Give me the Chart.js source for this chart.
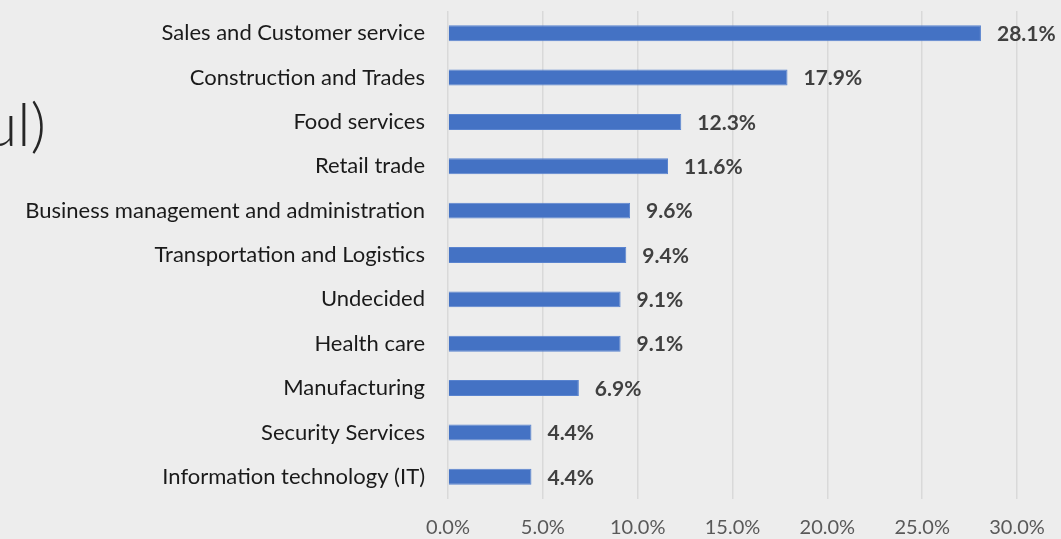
<html>

<head>
    <script src="https://cdn.jsdelivr.net/npm/chart.js@4"></script>
    <style>
        body { margin: 0; background: #ededed; }
    </style>
</head>

<body>
    <canvas id="dataChart" width="1061" height="539"></canvas>
</body>
<script>
    var categories = [
        "Sales and Customer service",
        "Construction and Trades",
        "Food services",
        "Retail trade",
        "Business management and administration",
        "Transportation and Logistics",
        "Undecided",
        "Health care",
        "Manufacturing",
        "Security Services",
        "Information technology (IT)"
    ];
    var shares = [28.1, 17.9, 12.3, 11.6, 9.6, 9.4, 9.1, 9.1, 6.9, 4.4, 4.4];
    var tickValues = [0, 5, 10, 15, 20, 25, 30];

    var FONT = "Lato, 'Open Sans', sans-serif";

    // value labels at the bar ends + the leftover title fragment on the left
    var extras = {
        id: 'extras',
        afterDatasetsDraw: function (chart) {
            var c = chart.ctx;
            var meta = chart.getDatasetMeta(0);
            c.save();
            c.font = "bold 21px " + FONT;
            c.fillStyle = "#404040";
            c.textAlign = "left";
            c.textBaseline = "middle";
            meta.data.forEach(function (bar, i) {
                c.fillText(shares[i].toFixed(1) + "%", bar.x + 16, bar.y + 1);
            });
            c.font = "300 60px " + FONT;
            c.fillStyle = "#262626";
            c.textAlign = "right";
            c.textBaseline = "alphabetic";
            c.fillText("ul)", 46, 146);
            c.restore();
        }
    };

    var ctx = document.getElementById("dataChart");
    var myChart = new Chart(ctx, {
        type: 'bar',
        data: {
            labels: categories,
            datasets: [{
                data: shares,
                backgroundColor: "#4472c4",
                borderColor: "#5a84cf",
                borderWidth: 1,
                categoryPercentage: 1,
                barPercentage: 0.36
            }]
        },
        options: {
            indexAxis: 'y',
            responsive: false,
            animation: false,
            devicePixelRatio: 1,
            layout: { padding: { top: 11, right: 44, left: 0, bottom: 0 } },
            plugins: { legend: { display: false }, tooltip: { enabled: false } },
            scales: {
                x: {
                    min: 0,
                    max: 30,
                    afterBuildTicks: function (axis) {
                        axis.ticks = tickValues.map(function (v) { return { value: v }; });
                    },
                    afterFit: function (axis) {
                        axis.height = 40;
                        axis.paddingLeft = 0;
                        axis.paddingRight = 0;
                    },
                    grid: { color: "#d9d9d9", lineWidth: 1.5, drawTicks: false },
                    border: { display: false },
                    ticks: {
                        padding: 17,
                        color: "#595959",
                        font: { family: FONT, size: 20 },
                        callback: function (v) { return Number(v).toFixed(1) + "%"; }
                    }
                },
                y: {
                    afterFit: function (axis) {
                        axis.width = 448;
                        axis.paddingTop = 0;
                        axis.paddingBottom = 0;
                    },
                    grid: { display: false, drawTicks: false },
                    border: { display: false },
                    ticks: {
                        padding: 23,
                        color: "#1a1a1a",
                        font: { family: FONT, size: 22 }
                    }
                }
            }
        },
        plugins: [extras]
    });
</script>

</html>
